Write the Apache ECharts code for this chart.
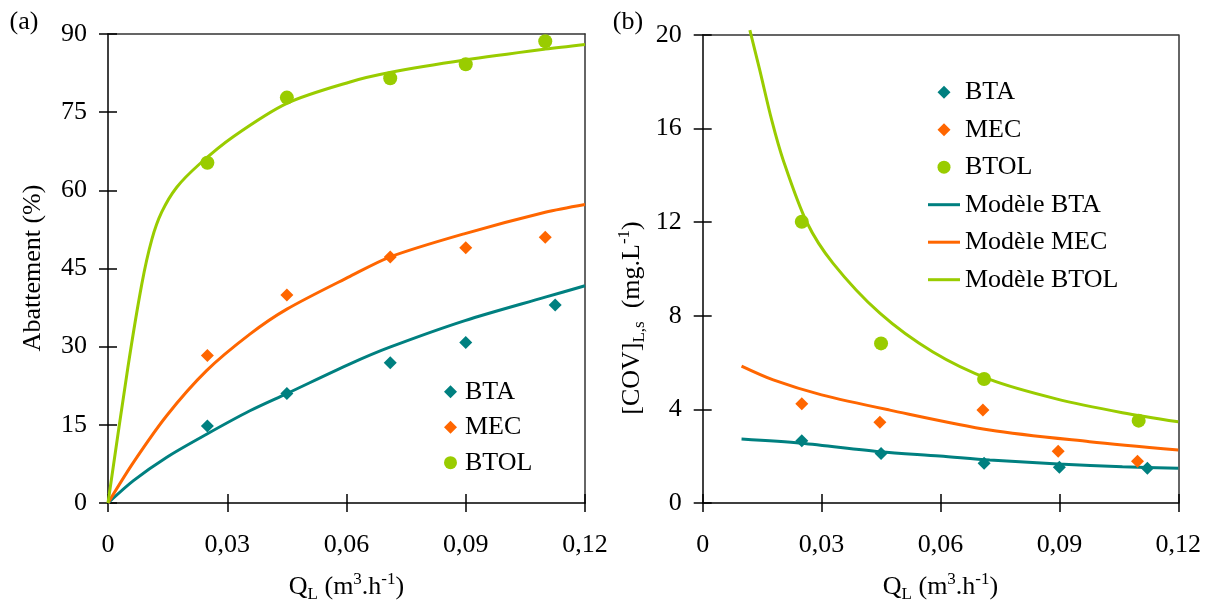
<!DOCTYPE html>
<html>
<head>
<meta charset="utf-8">
<script src="https://cdn.jsdelivr.net/npm/echarts@6/dist/echarts.min.js"></script>
<style>html,body{margin:0;padding:0;background:#fff}#c{width:1212px;height:606px}</style>
</head>
<body>
<div id="c"></div>
<script>
// ---------- data ----------
const xTickLabels = ['0', '0,03', '0,06', '0,09', '0,12'];
const yTickLabelsA = ['0', '15', '30', '45', '60', '75', '90'];
const yTickLabelsB = ['0', '4', '8', '12', '16', '20'];

// panel (a) measured points
const qBTA_a = [0.025, 0.045, 0.071, 0.090, 0.1125];
const BTA_a = [14.8, 21.0, 26.9, 30.8, 38.0];
const qMEC_a = [0.025, 0.045, 0.071, 0.090, 0.110];
const MEC_a = [28.3, 39.9, 47.2, 49.0, 51.0];
const qBTOL_a = [0.025, 0.045, 0.071, 0.090, 0.110];
const BTOL_a = [65.3, 77.8, 81.5, 84.2, 88.6];

// panel (a) model curves
const qModBTA_a = [0, 0.0064, 0.0148, 0.0248, 0.0357, 0.045, 0.0609, 0.0709, 0.0898, 0.11, 0.12];
const modBTA_a = [0, 4.3, 8.8, 13.2, 17.7, 21.0, 26.7, 29.9, 35.0, 39.5, 41.7];
const qModMEC_a = [0, 0.0064, 0.0148, 0.0248, 0.0357, 0.045, 0.0609, 0.0709, 0.0898, 0.11, 0.12];
const modMEC_a = [0, 7.8, 16.8, 25.4, 32.4, 37.2, 43.5, 47.2, 51.7, 55.8, 57.3];
const qModBTOL_a = [0, 0.005, 0.0085, 0.011, 0.0135, 0.0173, 0.0231, 0.0315, 0.045, 0.0609, 0.0709, 0.0898, 0.11, 0.12];
const modBTOL_a = [0, 26.0, 42.0, 50.5, 55.8, 60.6, 65.1, 70.3, 76.7, 80.8, 82.6, 85.0, 87.1, 88.0];

// panel (b) measured points
const qBTA_b = [0.025, 0.045, 0.071, 0.090, 0.1122];
const BTA_b = [2.66, 2.12, 1.70, 1.53, 1.48];
const qMEC_b = [0.025, 0.0447, 0.0707, 0.0897, 0.1097];
const MEC_b = [4.24, 3.45, 3.97, 2.21, 1.78];
const qBTOL_b = [0.025, 0.045, 0.071, 0.110];
const BTOL_b = [12.02, 6.82, 5.30, 3.52];

// panel (b) model curves
const qModBTA_b = [0.0098, 0.0249, 0.0447, 0.0598, 0.0724, 0.0897, 0.1059, 0.12];
const modBTA_b = [2.73, 2.55, 2.19, 2.01, 1.84, 1.67, 1.55, 1.48];
const qModMEC_b = [0.0098, 0.0178, 0.030, 0.0472, 0.0724, 0.0976, 0.12];
const modMEC_b = [5.85, 5.26, 4.62, 3.97, 3.12, 2.62, 2.26];
const qModBTOL_b = [0.0119, 0.0144, 0.0174, 0.0203, 0.0262, 0.0329, 0.0447, 0.0581, 0.0724, 0.0892, 0.1059, 0.12];
const modBTOL_b = [20.21, 18.5, 16.37, 14.66, 12.02, 10.24, 8.11, 6.45, 5.28, 4.45, 3.86, 3.47];

// ---------- styling ----------
const FONT = 'Liberation Serif';
const C_BTA = '#008080', C_MEC = '#FF6600', C_BTOL = '#99CC00';
const ICON_DIAMOND = 'path://M5,0L10,5L5,10L0,5Z';
const ICON_LINE = 'path://M0,0L32,0L32,3L0,3Z';
const pairs = (xs, ys) => xs.map((x, i) => [x, ys[i]]);

function xAxes(gridIndex) {
  return [
    { gridIndex, type: 'value', position: 'bottom', min: 0, max: 0.12, interval: 0.03,
      axisLine: { onZero: false, lineStyle: { color: '#000', width: 1.5 } },
      axisTick: { length: 9, lineStyle: { color: '#000', width: 1.5 } },
      axisLabel: { margin: 29, color: '#000', fontFamily: FONT, fontSize: 26,
        formatter: v => xTickLabels[Math.round(v / 0.03)] },
      splitLine: { show: false } },
    { gridIndex, type: 'value', position: 'bottom', min: 0, max: 0.12, interval: 0.03,
      axisLine: { show: false, onZero: false },
      axisTick: { inside: true, length: 9, lineStyle: { color: '#000', width: 1.5 } },
      axisLabel: { show: false }, splitLine: { show: false } },
    { gridIndex, type: 'value', position: 'top', min: 0, max: 0.12, interval: 0.03,
      axisLine: { onZero: false, lineStyle: { color: '#333', width: 1.5 } },
      axisTick: { show: false }, axisLabel: { show: false }, splitLine: { show: false } }
  ];
}
function yAxes(gridIndex, max, interval, labels) {
  return [
    { gridIndex, type: 'value', position: 'left', min: 0, max, interval,
      axisLine: { onZero: false, lineStyle: { color: '#000', width: 1.5 } },
      axisTick: { length: 9, lineStyle: { color: '#000', width: 1.5 } },
      axisLabel: { margin: 21, color: '#000', fontFamily: FONT, fontSize: 26,
        formatter: v => labels[Math.round(v / interval)] },
      splitLine: { show: false } },
    { gridIndex, type: 'value', position: 'left', min: 0, max, interval,
      axisLine: { show: false, onZero: false },
      axisTick: { inside: true, length: 9, lineStyle: { color: '#000', width: 1.5 } },
      axisLabel: { show: false }, splitLine: { show: false } },
    { gridIndex, type: 'value', position: 'right', min: 0, max, interval,
      axisLine: { onZero: false, lineStyle: { color: '#333', width: 1.5 } },
      axisTick: { show: false }, axisLabel: { show: false }, splitLine: { show: false } }
  ];
}

function scatter(name, xs, ys, color, symbol, size, xi, yi) {
  return { name, type: 'scatter', xAxisIndex: xi, yAxisIndex: yi, data: pairs(xs, ys),
    symbol, symbolSize: size, itemStyle: { color, opacity: 1 }, z: 3 };
}
function curve(name, xs, ys, color, xi, yi) {
  return { name, type: 'line', xAxisIndex: xi, yAxisIndex: yi, data: pairs(xs, ys),
    symbol: 'none', showSymbol: false, smooth: 0.3, clip: false,
    lineStyle: { color, width: 3 }, itemStyle: { color }, z: 2 };
}

const richBase = {
  n: { fontFamily: FONT, fontSize: 26, color: '#000', lineHeight: 32 },
  sub: { fontFamily: FONT, fontSize: 17, color: '#000', verticalAlign: 'bottom' },
  sup: { fontFamily: FONT, fontSize: 17, color: '#000', verticalAlign: 'top' }
};
const xNameText = '{n|Q}{sub|L}{n| (m}{sup|3}{n|.h}{sup|-1}{n|)}';

function gText(text, x, y, rotation) {
  return { type: 'text', x, y, rotation: rotation || 0, z: 10,
    style: { text, rich: richBase, fill: '#000', font: '26px ' + FONT,
      align: 'center', verticalAlign: 'middle', textAlign: 'center', textVerticalAlign: 'middle' } };
}

const legendText = { fontFamily: FONT, fontSize: 26, lineHeight: 26, color: '#000' };

const option = {
  animation: false,
  backgroundColor: '#fff',
  textStyle: { fontFamily: FONT },
  grid: [
    { left: 108, top: 34, width: 477, height: 469 },
    { left: 702.7, top: 35, width: 475.6, height: 468 }
  ],
  xAxis: [...xAxes(0), ...xAxes(1)],
  yAxis: [...yAxes(0, 90, 15, yTickLabelsA), ...yAxes(1, 20, 4, yTickLabelsB)],
  legend: [
    { orient: 'vertical', left: 444, top: 378.7, padding: 0, itemWidth: 13, itemHeight: 13, itemGap: 9.5,
      selectedMode: false, symbolKeepAspect: true,
      data: [{ name: 'BTA', icon: ICON_DIAMOND }, { name: 'MEC', icon: ICON_DIAMOND }, { name: 'BTOL', icon: 'circle' }],
      textStyle: Object.assign({ padding: [0, 0, 0, 3] }, legendText) },
    { orient: 'vertical', left: 928, top: 79.2, padding: 0, itemWidth: 32, itemHeight: 13, itemGap: 11.5,
      selectedMode: false, symbolKeepAspect: true,
      data: [
        { name: 'BTA', icon: ICON_DIAMOND }, { name: 'MEC', icon: ICON_DIAMOND }, { name: 'BTOL', icon: 'circle' },
        { name: 'Modèle BTA', icon: ICON_LINE }, { name: 'Modèle MEC', icon: ICON_LINE }, { name: 'Modèle BTOL', icon: ICON_LINE }
      ],
      textStyle: legendText }
  ],
  graphic: [
    gText('(a)', 24, 22),
    gText('(b)', 628, 22),
    gText(xNameText, 346.5, 587),
    gText(xNameText, 940.5, 587),
    gText('{n|Abattement (%)}', 33, 268, Math.PI / 2),
    gText('{n|[COV]}{sub|L,s}{n|  (mg.L}{sup|-1}{n|)}', 632, 318, Math.PI / 2)
  ],
  series: [
    curve('BTA_model_a', qModBTA_a, modBTA_a, C_BTA, 0, 0),
    curve('MEC_model_a', qModMEC_a, modMEC_a, C_MEC, 0, 0),
    curve('BTOL_model_a', qModBTOL_a, modBTOL_a, C_BTOL, 0, 0),
    scatter('BTA', qBTA_a, BTA_a, C_BTA, 'diamond', 13, 0, 0),
    scatter('MEC', qMEC_a, MEC_a, C_MEC, 'diamond', 13, 0, 0),
    scatter('BTOL', qBTOL_a, BTOL_a, C_BTOL, 'circle', 14, 0, 0),
    curve('Modèle BTA', qModBTA_b, modBTA_b, C_BTA, 3, 3),
    curve('Modèle MEC', qModMEC_b, modMEC_b, C_MEC, 3, 3),
    curve('Modèle BTOL', qModBTOL_b, modBTOL_b, C_BTOL, 3, 3),
    scatter('BTA', qBTA_b, BTA_b, C_BTA, 'diamond', 13, 3, 3),
    scatter('MEC', qMEC_b, MEC_b, C_MEC, 'diamond', 13, 3, 3),
    scatter('BTOL', qBTOL_b, BTOL_b, C_BTOL, 'circle', 14, 3, 3)
  ]
};

const chart = echarts.init(document.getElementById('c'), null, { renderer: 'canvas' });
chart.setOption(option);
</script>
</body>
</html>
